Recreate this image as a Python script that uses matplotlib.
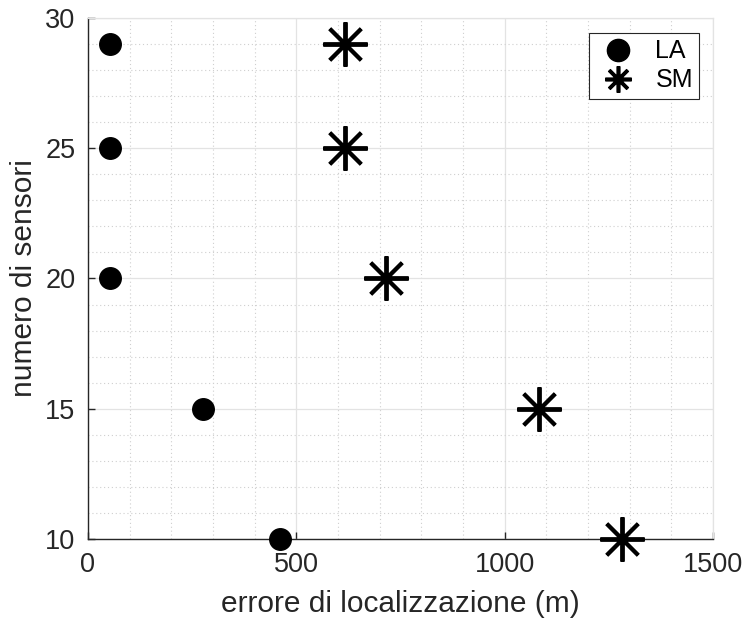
import matplotlib.pyplot as plt
from matplotlib.ticker import MultipleLocator
from matplotlib.lines import Line2D

plt.rcParams['font.family'] = ['Liberation Sans', 'DejaVu Sans']

# errore di localizzazione per numero di sensori
sensori = [29, 25, 20, 15, 10]
errore_la = [53, 53, 53, 276, 461]
errore_sm = [617, 617, 715, 1082, 1282]

fig = plt.figure(figsize=(7.45, 6.24), dpi=100)
ax = fig.add_axes([0.118, 0.1362, 0.839, 0.835])

ax.plot(errore_la, sensori, linestyle='none', marker='o', markersize=15.5,
        color='black', clip_on=False, zorder=5)
ax.plot(errore_sm, sensori, linestyle='none', marker=(8, 2, 0), markersize=32,
        markeredgewidth=2.8, color='black', clip_on=False, zorder=5)

ax.set_xlim(0, 1500)
ax.set_ylim(10, 30)
ax.xaxis.set_major_locator(MultipleLocator(500))
ax.xaxis.set_minor_locator(MultipleLocator(100))
ax.yaxis.set_major_locator(MultipleLocator(5))
ax.yaxis.set_minor_locator(MultipleLocator(1))

ax.grid(which='major', color='#e3e3e3', linewidth=0.9, linestyle='-')
ax.grid(which='minor', color='#cfcfcf', linewidth=0.8, linestyle=(0, (1, 2.5)))
ax.set_axisbelow(True)

for side in ['top', 'right']:
    ax.spines[side].set_color('#e3e3e3')
    ax.spines[side].set_linewidth(0.9)
for side in ['left', 'bottom']:
    ax.spines[side].set_color('#262626')
    ax.spines[side].set_linewidth(1.0)

ax.tick_params(which='major', direction='in', length=5, width=1.0,
               color='#262626', labelsize=19.5, labelcolor='#262626', pad=9)
ax.tick_params(which='minor', length=0)

ax.set_xlabel('errore di localizzazione (m)', fontsize=21.5, color='#262626', labelpad=9)
ax.set_ylabel('numero di sensori', fontsize=21.5, color='#262626', labelpad=5)

handles = [
    Line2D([], [], linestyle='none', marker='o', markersize=16, color='black'),
    Line2D([], [], linestyle='none', marker=(8, 2, 0), markersize=19,
           markeredgewidth=2.6, color='black'),
]
leg = ax.legend(handles, ['LA', 'SM'], loc='upper right', fontsize=18,
                fancybox=False, framealpha=1, edgecolor='#262626',
                borderpad=0.25, borderaxespad=0, handletextpad=0.6,
                labelspacing=0.2, handlelength=1.8,
                bbox_to_anchor=(0.978, 0.971))
leg.get_frame().set_linewidth(0.8)

fig.savefig('out.png', dpi=100, facecolor='white')
